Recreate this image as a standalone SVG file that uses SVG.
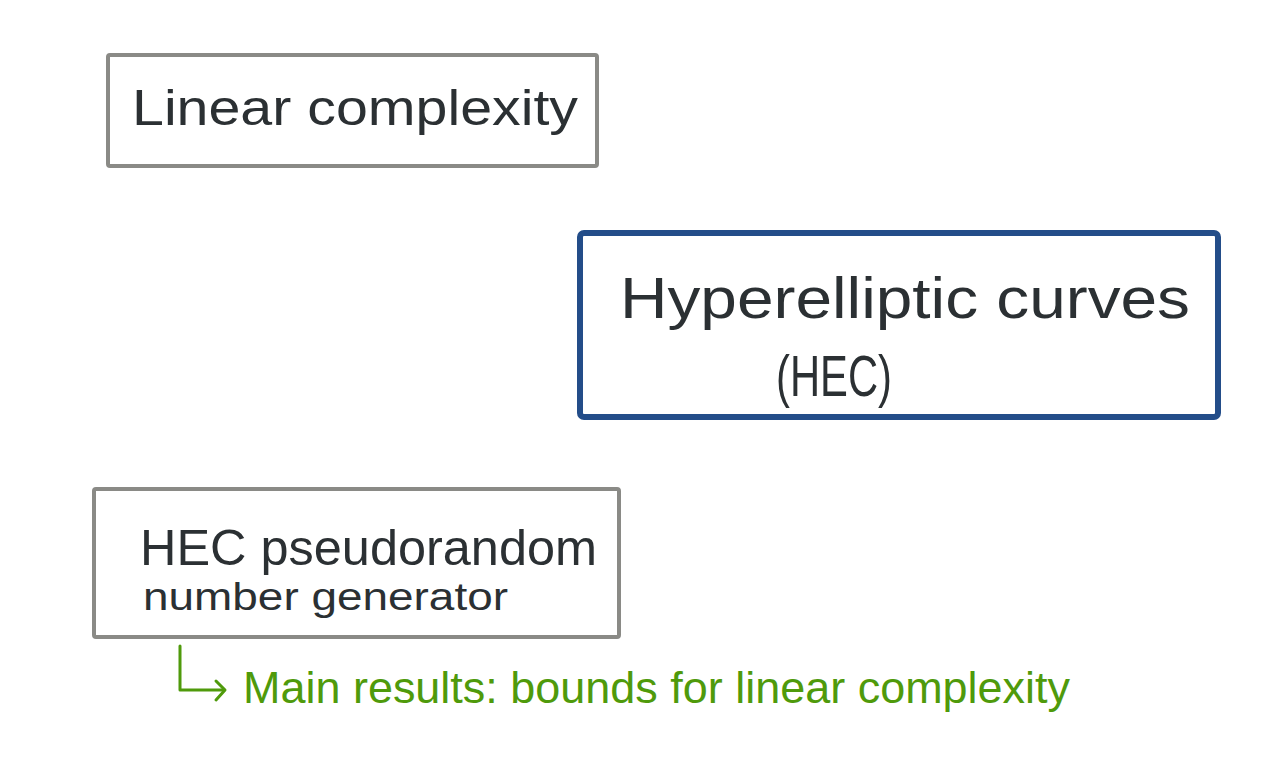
<svg xmlns="http://www.w3.org/2000/svg" width="1280" height="768" viewBox="0 0 1280 768">
  <style>
    .gray { fill: #ffffff; stroke: #8a8a86; stroke-width: 4; }
    .blue { fill: #ffffff; stroke: #234d89; stroke-width: 6; }
    .t { font-family: "Liberation Sans", "DejaVu Sans", sans-serif; fill: #2b3033; }
    .g { font-family: "Liberation Sans", "DejaVu Sans", sans-serif; fill: #4f9a0b; }
    .conn { fill: none; stroke: #4f9a0b; stroke-width: 3; stroke-linecap: round; stroke-linejoin: round; }
  </style>
  <rect width="1280" height="768" fill="#ffffff"/>
  <g id="node-linear">
    <rect class="gray" x="108" y="55" width="489" height="111" rx="2"/>
    <text class="t" x="132" y="125" font-size="50" textLength="446" lengthAdjust="spacingAndGlyphs">Linear complexity</text>
  </g>
  <g id="node-hec">
    <rect class="blue" x="580" y="233" width="638" height="184" rx="4"/>
    <text class="t" x="620" y="318" font-size="58" textLength="570" lengthAdjust="spacingAndGlyphs">Hyperelliptic curves</text>
    <text class="t" x="776" y="396" font-size="58" textLength="116" lengthAdjust="spacingAndGlyphs">(HEC)</text>
  </g>
  <g id="node-prng">
    <rect class="gray" x="94" y="489" width="525" height="148" rx="2"/>
    <text class="t" x="140" y="565" font-size="50" textLength="457" lengthAdjust="spacingAndGlyphs">HEC pseudorandom</text>
    <text class="t" x="143" y="610" font-size="38" textLength="365" lengthAdjust="spacingAndGlyphs">number generator</text>
  </g>
  <g id="connectors">
    <path class="conn" d="M180 646 L180 690 L224 690"/>
    <path class="conn" d="M216 681 L225 690 L216 700"/>
  </g>
  <g id="note">
    <text class="g" x="243" y="703" font-size="44" textLength="827" lengthAdjust="spacingAndGlyphs">Main results: bounds for linear complexity</text>
  </g>
</svg>
